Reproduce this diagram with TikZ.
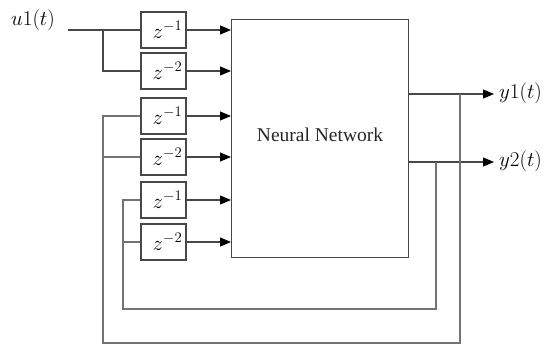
\documentclass[tikz,border=0pt]{standalone}
\usepackage{fix-cm}
\usepackage{fontspec}
\setmainfont{Liberation Serif}
\usetikzlibrary{arrows.meta}
\newcommand{\zd}[1]{\hspace{8pt}$z^{-#1}$}
\begin{document}
\begin{tikzpicture}[x=1pt,y=-1pt,
  ln/.style={draw=black!72,line width=1.2pt},
  fb/.style={draw=black!55,line width=1.4pt},
  arr/.style={ln,-{Triangle[length=11pt,width=9pt,color=black]}},
  delay/.style={ln,fill=white,minimum width=45pt,minimum height=36pt,inner sep=0pt,font=\fontsize{21}{24}\selectfont},
  lbl/.style={inner sep=0pt,font=\fontsize{21}{24}\selectfont}]
\useasboundingbox (0,0) rectangle (546,345);
% main box
\node[ln,minimum width=177pt,minimum height=238pt,inner sep=0pt,anchor=north west] (nn) at (231,19) {};
\node[lbl,text=black!85,font=\fontsize{19.5}{22}\selectfont] (nnt) at (320,135) {Neural Network};
% delay boxes
\node[delay] (d1) at (163.5,30) {\zd{1}};
\node[delay] (d2) at (163.5,71) {\zd{2}};
\node[delay] (d3) at (163.5,116) {\zd{1}};
\node[delay] (d4) at (163.5,157) {\zd{2}};
\node[delay] (d5) at (163.5,200) {\zd{1}};
\node[delay] (d6) at (163.5,242) {\zd{2}};
% arrows into network
\foreach \d in {d1,d2,d3,d4,d5,d6}
  \draw[arr] (\d.east) -- (\d.east -| nn.west);
% input
\node[lbl] (u) at (33,20) {$u1(t)$};
\coordinate (uin) at (68,30);
\coordinate (ub) at (103,30);
\draw[ln] (uin) -- (d1.west);
\draw[ln] (ub) |- (d2.west);
% outputs
\coordinate (o1) at (408,94);
\coordinate (o2) at (408,162);
\node[lbl,anchor=west] (y1) at (499,93) {$y1(t)$};
\node[lbl,anchor=west] (y2) at (499,161) {$y2(t)$};
\draw[arr] (o1) -- (494,94);
\draw[arr] (o2) -- (494,162);
% feedback taps
\coordinate (t1) at (460,94);
\coordinate (t2) at (436,162);
\coordinate (b1) at (460,343);
\coordinate (b2) at (436,309);
\coordinate (l1) at (103,343);
\coordinate (l2) at (123,309);
% outer loop (y1 -> d3, d4)
\draw[fb] (t1) -- (b1) -- (l1) |- (d3.west);
\draw[fb] (l1 |- d4.west) -- (d4.west);
% inner loop (y2 -> d5, d6)
\draw[fb] (t2) -- (b2) -- (l2) |- (d5.west);
\draw[fb] (l2 |- d6.west) -- (d6.west);
\end{tikzpicture}
\end{document}
